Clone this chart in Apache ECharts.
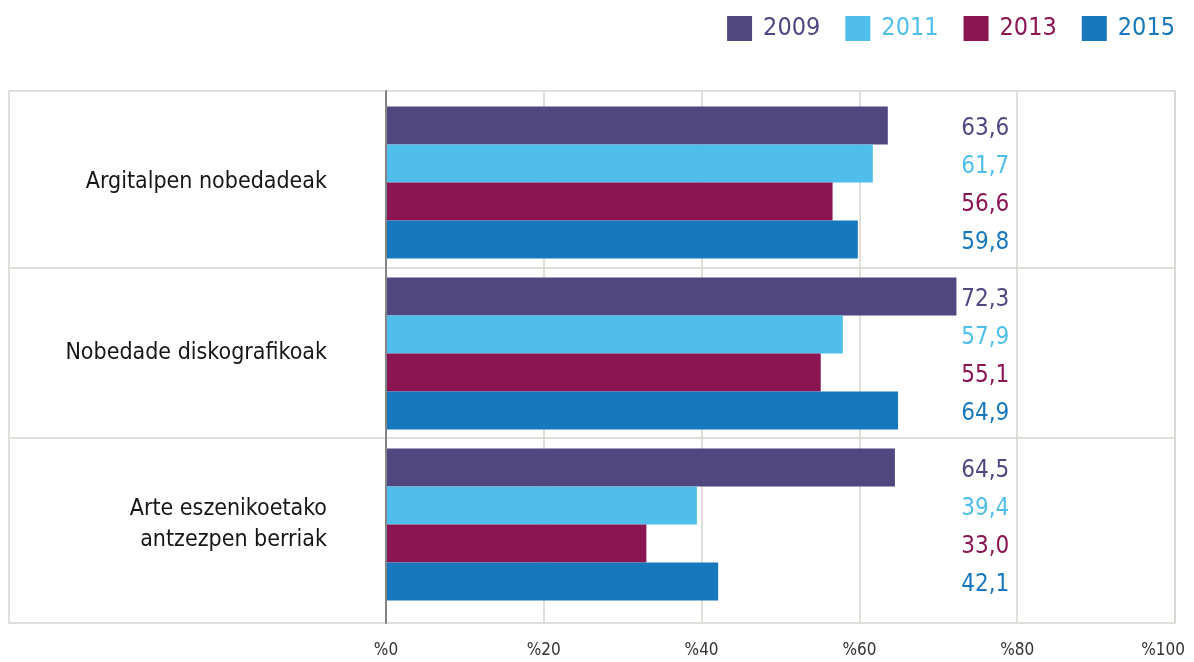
<!DOCTYPE html>
<html>
<head>
<meta charset="utf-8">
<script src="https://cdn.jsdelivr.net/npm/echarts@6/dist/echarts.min.js"></script>
<style>
html,body{margin:0;padding:0;background:#fff;}
#chart{width:1194px;height:662px;}
</style>
</head>
<body>
<div id="chart"></div>
<script>
// ---- data ----
const categories = ['Argitalpen nobedadeak', 'Nobedade diskografikoak', 'Arte eszenikoetako\nantzezpen berriak'];
const years = ['2009', '2011', '2013', '2015'];
const values2009 = [63.6, 72.3, 64.5];
const values2011 = [61.7, 57.9, 39.4];
const values2013 = [56.6, 55.1, 33.0];
const values2015 = [59.8, 64.9, 42.1];
const xTickValues = [0, 20, 40, 60, 80, 100];

// ---- styles ----
const colors = ['#504781', '#4fbeeb', '#8b1452', '#1878bd'];
const FONT = "'Liberation Sans Narrow', 'DejaVu Sans Condensed', 'Liberation Sans', sans-serif";
const GRID_LEFT = 386, GRID_RIGHT = 19;
const LABEL_AT = 79; // value-label column, in axis units
const lineColor = '#d8d5cf';

const chart = echarts.init(document.getElementById('chart'), null, {renderer: 'canvas'});
const seriesValues = [values2009, values2011, values2013, values2015];

function fmt(v) { return v.toFixed(1).replace('.', ','); }

const series = years.map((y, i) => ({
  name: y,
  type: 'bar',
  xAxisIndex: 0,
  yAxisIndex: 0,
  data: seriesValues[i],
  barWidth: 38,
  barGap: '0%',
  itemStyle: {color: colors[i]},
  label: {
    show: true,
    position: 'right',
    formatter: p => fmt(p.value),
    color: colors[i],
    fontFamily: FONT,
    fontSize: 24
  },
  labelLayout: function () {
    const w = chart.getWidth();
    return {x: GRID_LEFT + (w - GRID_LEFT - GRID_RIGHT) * LABEL_AT / 100, align: 'right', verticalAlign: 'middle', dy: 3};
  }
}));

const maxTick = xTickValues[xTickValues.length - 1];

const option = {
  animation: false,
  backgroundColor: '#fff',
  legend: {
    top: 11,
    right: 14,
    itemWidth: 25,
    itemHeight: 25,
    itemGap: 25,
    icon: 'rect',
    data: years.map((y, i) => ({name: y, textStyle: {color: colors[i]}})),
    textStyle: {fontFamily: FONT, fontSize: 25, padding: [0, 0, 0, 6]}
  },
  grid: [
    {left: GRID_LEFT, right: GRID_RIGHT, top: 97, height: 513, outerBoundsMode: 'none'},
    {left: GRID_LEFT, right: GRID_RIGHT, top: 91, bottom: 39, outerBoundsMode: 'none'},
    {left: 9, right: GRID_RIGHT, top: 91, bottom: 39, show: true, borderColor: lineColor, borderWidth: 1.5, backgroundColor: 'transparent', outerBoundsMode: 'none'},
    {left: 9, right: GRID_RIGHT, top: 268, height: 170, outerBoundsMode: 'none'}
  ],
  xAxis: [
    {gridIndex: 0, type: 'value', min: 0, max: 100, show: false},
    {gridIndex: 1, type: 'value', min: xTickValues[0], max: maxTick, interval: 20,
      axisLine: {show: false}, axisTick: {show: false},
      axisLabel: {
        formatter: v => v === maxTick ? '{last|%' + v + '}' : '%' + v,
        fontFamily: FONT, fontSize: 17, color: '#333', margin: 19,
        rich: {last: {fontFamily: FONT, fontSize: 17, color: '#333', padding: [0, 24, 0, 0]}}
      },
      splitLine: {show: true, lineStyle: {color: lineColor, width: 1.5}}},
    {gridIndex: 2, type: 'value', min: 0, max: 1, show: false},
    {gridIndex: 3, type: 'value', min: 0, max: 1, show: false}
  ],
  yAxis: [
    {gridIndex: 0, type: 'category', data: categories, inverse: true,
      axisLine: {show: false}, axisTick: {show: false}, splitLine: {show: false},
      axisLabel: {fontFamily: FONT, fontSize: 23, lineHeight: 31, color: '#161615', margin: 59, align: 'right'}},
    {gridIndex: 1, type: 'value', min: 0, max: 1, z: 5,
      axisLine: {show: true, lineStyle: {color: '#858585', width: 2}},
      axisTick: {show: false}, axisLabel: {show: false}, splitLine: {show: false}},
    {gridIndex: 2, type: 'value', min: 0, max: 1, show: false},
    {gridIndex: 3, type: 'category', data: [''],
      axisLine: {show: false}, axisTick: {show: false}, axisLabel: {show: false},
      splitLine: {show: true, lineStyle: {color: lineColor, width: 1.5}}}
  ],
  series: series
};

chart.setOption(option);
</script>
</body>
</html>
